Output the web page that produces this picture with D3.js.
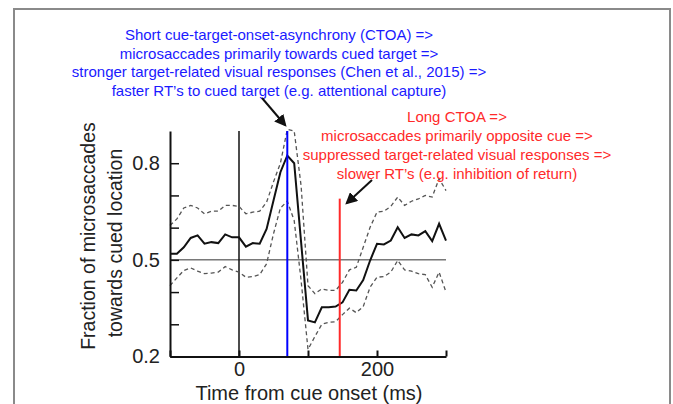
<!DOCTYPE html>
<html>
<head>
<meta charset="utf-8">
<script src="https://cdn.jsdelivr.net/npm/d3@7"></script>
<style>
  body { margin: 0; background: #ffffff; }
  text { font-family: "Liberation Sans", Arial, sans-serif; }
</style>
</head>
<body>
<script>
const width = 673;
const height = 404;

// time from cue onset (ms), one sample every 10 ms
const times = [-100, -90, -80, -70, -60, -50, -40, -30, -20, -10, 0, 10, 20, 30, 40, 50, 60, 70, 80, 90,
  100, 110, 120, 130, 140, 150, 160, 170, 180, 190, 200, 210, 220, 230, 240, 250, 260, 270, 280, 290, 300];

// fraction of microsaccades towards cued location (mean)
const meanFrac = [0.519, 0.519, 0.539, 0.568, 0.576, 0.550, 0.555, 0.552, 0.579, 0.570, 0.570, 0.541, 0.552, 0.550,
  0.596, 0.684, 0.772, 0.824, 0.800, 0.555, 0.312, 0.306, 0.353, 0.353, 0.355, 0.368, 0.407, 0.405, 0.437, 0.498,
  0.550, 0.548, 0.560, 0.601, 0.568, 0.579, 0.576, 0.589, 0.558, 0.612, 0.560];

// upper confidence bound (dashed)
const upperFrac = [0.607, 0.627, 0.661, 0.669, 0.661, 0.643, 0.651, 0.651, 0.669, 0.669, 0.666, 0.643, 0.648, 0.651,
  0.679, 0.742, 0.800, 0.905, 0.900, 0.730, 0.420, 0.395, 0.410, 0.405, 0.405, 0.430, 0.469, 0.477, 0.539, 0.601,
  0.648, 0.651, 0.666, 0.695, 0.669, 0.682, 0.689, 0.700, 0.695, 0.752, 0.715];

// lower confidence bound (dashed)
const lowerFrac = [0.420, 0.444, 0.467, 0.475, 0.465, 0.457, 0.459, 0.462, 0.479, 0.469, 0.462, 0.446, 0.448, 0.454,
  0.488, 0.581, 0.661, 0.682, 0.622, 0.436, 0.222, 0.262, 0.300, 0.306, 0.308, 0.330, 0.350, 0.336, 0.355, 0.415,
  0.446, 0.448, 0.462, 0.498, 0.469, 0.465, 0.457, 0.454, 0.415, 0.462, 0.400];

// ticks
const xTicks = [-100, 0, 100, 200, 300];
const xTickLabels = [0, 200];
const yTicks = [0.2, 0.3, 0.4, 0.5, 0.6, 0.7, 0.8];
const yTickLabels = [0.2, 0.5, 0.8];

// vertical markers: cue onset, short CTOA, long CTOA
const cueTime = 0;
const shortCtoa = 70;
const longCtoa = 146;
const longCtoaTop = 0.69;
const chanceLevel = 0.5;

// annotation text
const blueLines = [
  "Short cue-target-onset-asynchrony (CTOA) =>",
  "microsaccades primarily towards cued target =>",
  "stronger target-related visual responses (Chen et al., 2015) =>",
  "faster RT\u2019s to cued target (e.g. attentional capture)"
];
const redLines = [
  "Long CTOA =>",
  "microsaccades primarily opposite cue =>",
  "suppressed target-related visual responses =>",
  "slower RT\u2019s (e.g. inhibition of return)"
];

const svg = d3.select("body").append("svg")
  .attr("width", width)
  .attr("height", height);

svg.append("defs").append("marker")
  .attr("id", "arrow")
  .attr("viewBox", "0 0 10 10")
  .attr("refX", 8)
  .attr("refY", 5)
  .attr("markerWidth", 6)
  .attr("markerHeight", 6)
  .attr("orient", "auto")
  .append("path")
  .attr("d", "M0,0 L10,5 L0,10 z")
  .attr("fill", "#111");

//Frame round the figure
svg.append("rect")
  .attr("x", 14)
  .attr("y", 9)
  .attr("width", 656)
  .attr("height", 420)
  .attr("fill", "none")
  .attr("stroke", "#8a8a8a")
  .attr("stroke-width", 2);

const x = d3.scaleLinear().domain([-100, 300]).range([170, 446]);
const y = d3.scaleLinear().domain([0.2, 0.9]).range([356.5, 131]);

const line = d3.line()
  .x((d, i) => x(times[i]))
  .y(d => y(d));

//Chance level
svg.append("line")
  .attr("x1", x(-100)).attr("x2", x(300))
  .attr("y1", y(chanceLevel)).attr("y2", y(chanceLevel))
  .attr("stroke", "#333")
  .attr("stroke-width", 1);

//Cue onset
svg.append("line")
  .attr("x1", x(cueTime)).attr("x2", x(cueTime))
  .attr("y1", y(0.2)).attr("y2", y(0.9))
  .attr("stroke", "#111")
  .attr("stroke-width", 1.5);

//Bounds
[upperFrac, lowerFrac].forEach(arr => {
  svg.append("path")
    .attr("d", line(arr))
    .attr("fill", "none")
    .attr("stroke", "#555")
    .attr("stroke-width", 1.3)
    .attr("stroke-dasharray", "4,3");
});

//Mean
svg.append("path")
  .attr("d", line(meanFrac))
  .attr("fill", "none")
  .attr("stroke", "#111")
  .attr("stroke-width", 2);

//CTOA markers
svg.append("line")
  .attr("x1", x(shortCtoa)).attr("x2", x(shortCtoa))
  .attr("y1", y(0.2)).attr("y2", y(0.9))
  .attr("stroke", "#0000ff")
  .attr("stroke-width", 2);

svg.append("line")
  .attr("x1", x(longCtoa)).attr("x2", x(longCtoa))
  .attr("y1", y(0.2)).attr("y2", y(longCtoaTop))
  .attr("stroke", "#ff2a2a")
  .attr("stroke-width", 2);

//Axes
const xAxis = d3.axisBottom(x)
  .tickValues(xTicks)
  .tickSizeInner(-6)
  .tickSizeOuter(0)
  .tickFormat(d => xTickLabels.includes(d) ? d : "");

const yAxis = d3.axisLeft(y)
  .tickValues(yTicks)
  .tickSizeInner(-9)
  .tickSizeOuter(0)
  .tickFormat(d => yTickLabels.includes(d) ? d3.format(".1f")(d) : "");

const gx = svg.append("g")
  .attr("transform", `translate(0,${y(0.2)})`)
  .call(xAxis);
gx.select(".domain").attr("stroke", "#111").attr("stroke-width", 2);
gx.selectAll(".tick line").attr("stroke", "#111").attr("stroke-width", 2);
gx.selectAll(".tick text")
  .attr("y", 5)
  .style("font-size", "20px")
  .style("font-family", "Liberation Sans, Arial, sans-serif")
  .attr("fill", "#222");

const gy = svg.append("g")
  .attr("transform", `translate(${x(-100)},0)`)
  .call(yAxis);
gy.select(".domain").attr("stroke", "#111").attr("stroke-width", 2);
gy.selectAll(".tick line").attr("stroke", "#111").attr("stroke-width", 1.5);
gy.selectAll(".tick text")
  .attr("x", -10)
  .style("font-size", "20px")
  .style("font-family", "Liberation Sans, Arial, sans-serif")
  .attr("fill", "#222");

//Axis titles
svg.append("text")
  .attr("x", 309)
  .attr("y", 400)
  .attr("text-anchor", "middle")
  .style("font-size", "20px")
  .attr("fill", "#222")
  .text("Time from cue onset (ms)");

svg.append("text")
  .attr("transform", "translate(95,236) rotate(-90)")
  .attr("text-anchor", "middle")
  .style("font-size", "19.5px")
  .attr("fill", "#222")
  .text("Fraction of microsaccades");

svg.append("text")
  .attr("transform", "translate(122,243) rotate(-90)")
  .attr("text-anchor", "middle")
  .style("font-size", "19.5px")
  .attr("fill", "#222")
  .text("towards cued location");

//Annotations
blueLines.forEach((t, i) => {
  svg.append("text")
    .attr("x", 279)
    .attr("y", 40 + i * 18.5)
    .attr("text-anchor", "middle")
    .style("font-size", "15px")
    .attr("fill", "#1a1aff")
    .text(t);
});

redLines.forEach((t, i) => {
  svg.append("text")
    .attr("x", 457)
    .attr("y", 122 + i * 19)
    .attr("text-anchor", "middle")
    .style("font-size", "15px")
    .attr("fill", "#ff2a2a")
    .text(t);
});

//Arrows
svg.append("line")
  .attr("x1", 262).attr("y1", 98)
  .attr("x2", 285).attr("y2", 125)
  .attr("stroke", "#111")
  .attr("stroke-width", 2)
  .attr("marker-end", "url(#arrow)");

svg.append("line")
  .attr("x1", 372).attr("y1", 180)
  .attr("x2", 347).attr("y2", 203)
  .attr("stroke", "#111")
  .attr("stroke-width", 2)
  .attr("marker-end", "url(#arrow)");
</script>
</body>
</html>
